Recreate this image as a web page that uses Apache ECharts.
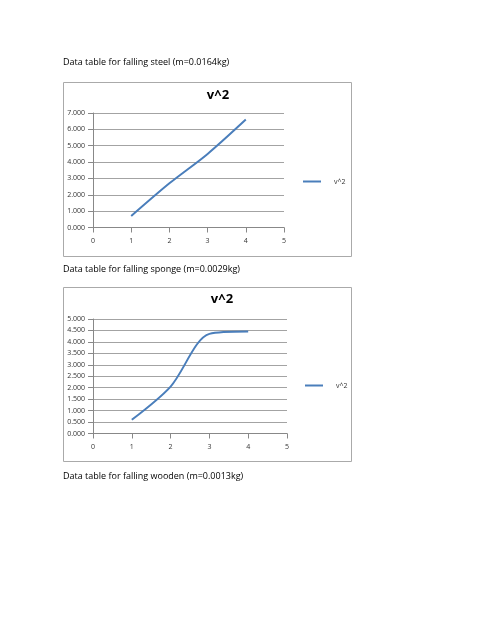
<!DOCTYPE html>
<html><head><meta charset="utf-8">
<script src="https://cdn.jsdelivr.net/npm/echarts@6/dist/echarts.min.js"></script>
<style>html,body{margin:0;padding:0;background:#fff}#c{width:495px;height:640px}</style>
</head><body><div id="c"></div>
<script>
const xSteel = [1, 2, 3, 4];
const vSteel = [0.7, 2.7, 4.5, 6.6];
const xSponge = [1, 2, 3, 4];
const vSponge = [0.6, 2.05, 4.35, 4.45];
const seriesName = 'v^2';

const chart = echarts.init(document.getElementById('c'));
const font = '"Open Sans", "Liberation Sans", sans-serif';
const yLab = {fontSize: 7, color: '#333', fontFamily: font, formatter: v => v.toFixed(3)};
const xAx = (i) => ({gridIndex: i, type: 'value', min: 0, max: 5, interval: 1,
  axisLine: {lineStyle: {color: '#888'}}, axisTick: {show: true, lineStyle: {color: '#888'}},
  splitLine: {show: false}, axisLabel: {fontSize: 7, color: '#333', fontFamily: font, margin: 10}});
const yAx = (i, max, interval) => ({gridIndex: i, type: 'value', min: 0, max, interval,
  axisLine: {show: true, lineStyle: {color: '#888'}}, axisTick: {show: true, lineStyle: {color: '#888'}},
  splitLine: {lineStyle: {color: '#8c8c8c', width: 0.8}}, axisLabel: yLab});
chart.setOption({
  animation: false,
  grid: [
    {left: 93, width: 191, top: 113, height: 114.5},
    {left: 93, width: 194, top: 319, height: 114.5}
  ],
  xAxis: [xAx(0), xAx(1)],
  yAxis: [yAx(0, 7, 1), yAx(1, 5, 0.5)],
  legend: [
    {data: [{name: seriesName + ' ', icon: 'rect'}], left: 298, top: 173, itemWidth: 18, itemHeight: 2, itemGap: 4,
     textStyle: {fontSize: 7, fontFamily: font, color: '#333', padding: [0,0,0,8]}},
    {data: [{name: seriesName, icon: 'rect'}], left: 300, top: 377, itemWidth: 18, itemHeight: 2,
     textStyle: {fontSize: 7, fontFamily: font, color: '#333', padding: [0,0,0,8]}}
  ],
  series: [
    {name: seriesName + ' ', type: 'line', xAxisIndex: 0, yAxisIndex: 0, smooth: 0.3, showSymbol: false,
     data: xSteel.map((x, i) => [x, vSteel[i]]), lineStyle: {color: '#4a7ebb', width: 2}, itemStyle: {color: '#4a7ebb'}},
    {name: seriesName, type: 'line', xAxisIndex: 1, yAxisIndex: 1, smooth: 0.3, showSymbol: false,
     data: xSponge.map((x, i) => [x, vSponge[i]]), lineStyle: {color: '#4a7ebb', width: 2}, itemStyle: {color: '#4a7ebb'}}
  ],
  graphic: [
    {type: 'rect', shape: {x: 63.5, y: 82.5, width: 288, height: 174}, style: {fill: 'none', stroke: '#aaa', lineWidth: 1}, z: -1},
    {type: 'rect', shape: {x: 63.5, y: 287.5, width: 288, height: 174}, style: {fill: 'none', stroke: '#aaa', lineWidth: 1}, z: -1},
    {type: 'text', left: 63, top: 58, style: {text: 'Data table for falling steel (m=0.0164kg)', font: '9px ' + font, fill: '#000'}},
    {type: 'text', left: 63, top: 265, style: {text: 'Data table for falling sponge (m=0.0029kg)', font: '9px ' + font, fill: '#000'}},
    {type: 'text', left: 63, top: 472, style: {text: 'Data table for falling wooden (m=0.0013kg)', font: '9px ' + font, fill: '#000'}},
    {type: 'text', x: 218, y: 89, style: {text: 'v^2', font: 'bold 13px ' + font, fill: '#000', align: 'center'}},
    {type: 'text', x: 222, y: 293, style: {text: 'v^2', font: 'bold 13px ' + font, fill: '#000', align: 'center'}}
  ]
});
</script></body></html>
